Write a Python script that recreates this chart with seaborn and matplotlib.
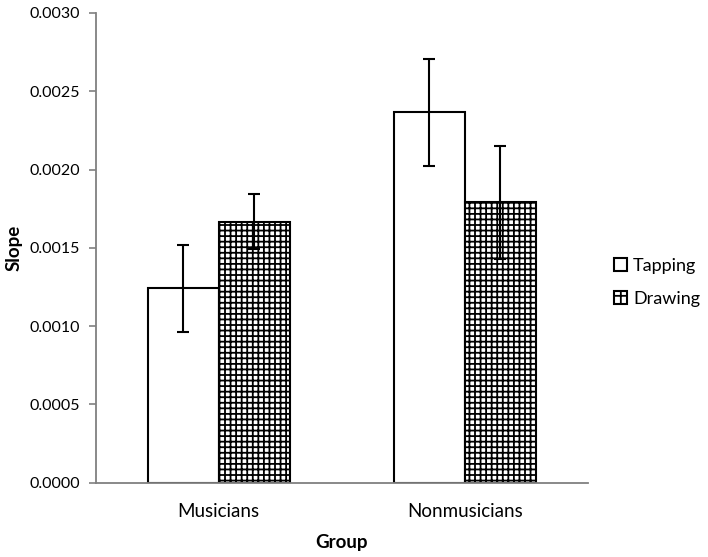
import pandas as pd
import matplotlib
matplotlib.use('Agg')
import matplotlib.pyplot as plt
import seaborn as sns

# Datos
grupos = ['Musicians', 'Nonmusicians']
tareas = ['Tapping', 'Drawing']
tapping = [0.001241, 0.002365]
drawing = [0.001667, 0.001791]
err_tapping = [0.000276, 0.000340]
err_drawing = [0.000177, 0.000360]

df = pd.DataFrame({
    'Group': grupos * 2,
    'Task': ['Tapping'] * 2 + ['Drawing'] * 2,
    'Slope': tapping + drawing,
    'Err': err_tapping + err_drawing,
})

sns.set_style('white')
plt.rcParams['font.family'] = ['Lato', 'DejaVu Sans']
plt.rcParams['hatch.linewidth'] = 1.3

fig = plt.figure(figsize=(7.08, 5.57), dpi=100)
ax = fig.add_axes([0.135, 0.1334, 0.6955, 0.8433])

sns.barplot(data=df, x='Group', y='Slope', hue='Task', hue_order=tareas,
            order=grupos, errorbar=None, width=0.578, palette=['white', 'white'],
            edgecolor='black', linewidth=1.5, ax=ax)

# Rellenar la barra de Drawing con cuadricula
for cont, tarea in zip(ax.containers, tareas):
    for p in cont:
        if tarea == 'Drawing':
            p.set_hatch('+++')

# Barras de error
for cont, tarea in zip(ax.containers, tareas):
    sub = df[df['Task'] == tarea].set_index('Group').loc[grupos]
    xs = [p.get_x() + p.get_width() / 2 for p in cont]
    ax.errorbar(xs, sub['Slope'], yerr=sub['Err'], fmt='none', ecolor='black',
                elinewidth=1.5, capsize=4, capthick=1.5, zorder=5)

ax.set_xlim(-0.5, 1.5)
ax.set_ylim(0, 0.003)
ax.set_yticks([0, 0.0005, 0.001, 0.0015, 0.002, 0.0025, 0.003])
ax.set_yticklabels(['0.0000', '0.0005', '0.0010', '0.0015', '0.0020', '0.0025', '0.0030'])

for s in ['top', 'right']:
    ax.spines[s].set_visible(False)
for s in ['left', 'bottom']:
    ax.spines[s].set_color('#808080')
    ax.spines[s].set_linewidth(1.3)

ax.tick_params(axis='y', which='major', left=True, length=5, width=1.2, color='#808080',
               labelsize=11.5, pad=6, labelcolor='black')
ax.tick_params(axis='x', bottom=False, labelsize=13.5, pad=11, labelcolor='black')

ax.set_xlabel('Group', fontsize=13.5, fontweight='bold', labelpad=10, color='black')
ax.set_ylabel('Slope', fontsize=13.5, fontweight='bold', labelpad=5, color='black')

handles, labels = ax.get_legend_handles_labels()
handles[1].set_hatch('++')
ax.legend(handles, labels, loc='center left', bbox_to_anchor=(0.857, 0.493),
          bbox_transform=fig.transFigure, frameon=False, fontsize=13,
          handlelength=0.7, handleheight=0.7, handletextpad=0.35, labelspacing=0.95,
          borderaxespad=0, labelcolor='black')

plt.savefig('out.png', dpi=100)
